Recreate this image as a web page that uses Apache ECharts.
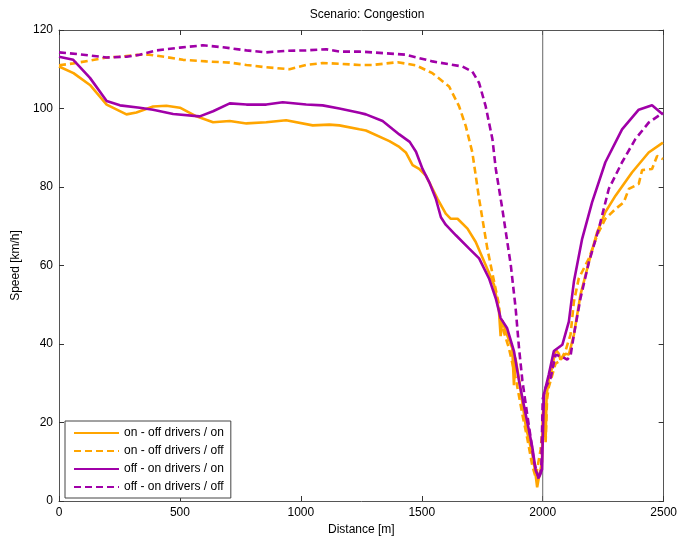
<!DOCTYPE html>
<html><head><meta charset="utf-8">
<script src="https://cdn.jsdelivr.net/npm/echarts@6/dist/echarts.min.js"></script>
<style>html,body{margin:0;padding:0;background:#fff}#c{width:680px;height:541px}</style>
</head><body><div id="c"></div>
<script>
const titleText = 'Scenario: Congestion';
const seriesNames = ['on - off drivers / on','on - off drivers / off','off - on drivers / on','off - on drivers / off'];
const xTicks = [0,500,1000,1500,2000,2500];
const yTicks = [0,20,40,60,80,100,120];
const markerX = 2000;

const onOnX = [0,60,128,197,279,320,389,444,500,568,637,706,775,857,939,1049,1118,1159,1242,1269,1366,1407,1434,1462,1489,1517,1565,1599,1620,1648,1689,1723,1764,1799,1819,1826,1833,1847,1874,1881,1887,1902,1930,1957,1970,1977,1984,1991,1997,2000,2007,2012,2016,2025,2039,2053,2067,2073,2094,2108,2129,2156,2191,2225,2259,2301,2369,2438,2497];
const onOnY = [110.7,109,106,101,98.5,99,100.5,100.7,100.2,98,96.5,96.8,96.2,96.5,97,95.7,95.9,95.7,94.7,94.4,91.7,90.2,88.8,85.6,84.6,82.9,77,73.2,71.9,71.9,69.4,66,60.1,55,48.5,42,46,43.2,39,29.5,36.5,31,19,12,7,3.5,6,8,10,22,25,15.5,27,31,34,38.6,37.5,36,37.5,37.3,42.4,52.5,60.9,68.5,73.6,77.8,83.7,88.8,91.3];

const onOffX = [0,60,128,197,250,334,372,444,513,609,706,775,857,953,1022,1090,1159,1242,1297,1400,1476,1544,1613,1654,1682,1709,1737,1771,1799,1819,1826,1833,1860,1888,1916,1936,1957,1971,1991,2005,2012,2018,2025,2053,2073,2094,2115,2129,2149,2191,2225,2259,2301,2335,2356,2397,2411,2452,2473,2497];
const onOffY = [111,111.5,112.2,113,113.2,113.7,113.7,113.1,112.4,112,111.7,111.1,110.5,110,111.1,111.6,111.4,111.1,111.1,111.8,111,109,105.6,100.6,95.5,88.8,77,64.3,55.9,50,45,44.3,39,31.4,22,16,9,6,13,22,15,26,29,35,35.8,38.2,42.4,50.8,56.7,61.8,67.7,71.9,74.4,76.1,79.5,80.8,84.3,84.6,87.9,87.1];

const offOnX = [0,59,128,197,252,334,389,472,582,637,706,775,857,925,1022,1090,1159,1242,1269,1338,1407,1450,1476,1503,1531,1558,1579,1599,1641,1696,1737,1778,1806,1826,1853,1881,1902,1930,1957,1971,1984,1997,2005,2025,2046,2081,2108,2129,2163,2204,2259,2328,2397,2452,2497];
const offOnY = [113.2,112.4,107.8,101.9,100.8,100.2,99.7,98.6,98,99.3,101.3,101,101,101.6,101,100.8,100,98.9,98.5,96.8,93.4,91.5,89,84.6,81.2,77,72.3,70.4,67.7,64.3,61.8,56.7,51.6,46.6,44,38.2,30.6,22,13.7,7.8,6,8,27.2,32.2,38.2,39.8,45.7,55.9,66.8,76.1,86.3,94.7,99.7,100.8,98.5];

const offOffX = [0,87,197,279,334,403,500,595,678,775,857,939,1022,1104,1159,1242,1297,1434,1544,1668,1709,1737,1764,1792,1806,1833,1868,1888,1902,1916,1936,1950,1964,1984,1994,2000,2012,2033,2053,2087,2101,2115,2129,2156,2191,2232,2273,2328,2383,2438,2497];
const offOffY = [114.3,113.8,113,113.2,113.7,114.8,115.5,116.1,115.6,114.8,114.3,114.7,114.8,115.1,114.5,114.5,114.3,113.7,112,110.7,109.4,106.5,100.6,92.2,84.6,74.4,60.1,49.1,39,30.6,22,16.2,10,5.5,8,26,28.9,31.4,37.3,36.5,36,37,42.4,51.6,60.9,69.4,79.5,86.3,92.2,96.4,98.9];

const ORANGE = '#ffa500', PURPLE = '#a000a8';
const FONT = 'Liberation Sans, Arial, sans-serif';
function pairs(xs, ys){ return xs.map((x,i)=>[x, ys[i]]); }
function mk(name, xs, ys, color, dashed){
  return {name, type:'line', xAxisIndex:0, yAxisIndex:0, data:pairs(xs,ys), symbol:'none', showSymbol:false,
    lineStyle:{color, width:2.6, type: dashed ? [7,4] : 'solid'}, itemStyle:{color}, animation:false};
}
const chart = echarts.init(document.getElementById('c'), null, {renderer:'canvas'});
const axisCommon = {min:0, axisLine:{show:true, onZero:false, lineStyle:{color:'#555', width:1}},
  axisTick:{show:true, inside:true, length:5, lineStyle:{color:'#333'}}, splitLine:{show:false}};
const plain = v => String(v);
chart.setOption({
  animation:false,
  title:{text:titleText, left:362, top:4, textAlign:'center', textStyle:{fontFamily:FONT, fontSize:12, fontWeight:'normal', color:'#000'}},
  grid:{left:59, right:15, top:30, bottom:37},
  legend:{data:seriesNames, orient:'vertical', left:65, top:421, itemWidth:45, itemHeight:12, itemGap:6,
    padding:[6,7,5,8], backgroundColor:'#fff', borderColor:'#444', borderWidth:1, borderRadius:0,
    itemStyle:{opacity:0, borderWidth:0},
    textStyle:{fontFamily:FONT, fontSize:12, color:'#000'}, selectedMode:false},
  xAxis:[
    Object.assign({}, axisCommon, {type:'value', max:2500, interval:500, position:'bottom',
      name:'Distance [m]', nameLocation:'middle', nameGap:23, nameTextStyle:{fontFamily:FONT, fontSize:12, color:'#000'},
      axisLabel:{fontFamily:FONT, fontSize:12, color:'#000', margin:6, formatter:plain}}),
    Object.assign({}, axisCommon, {type:'value', max:2500, interval:500, position:'top', axisLabel:{show:false}})
  ],
  yAxis:[
    Object.assign({}, axisCommon, {type:'value', max:120, interval:20, position:'left',
      name:'Speed [km/h]', nameLocation:'middle', nameGap:31, nameTextStyle:{fontFamily:FONT, fontSize:12, color:'#000'},
      axisLabel:{fontFamily:FONT, fontSize:12, color:'#000', margin:6, formatter:plain}}),
    Object.assign({}, axisCommon, {type:'value', max:120, interval:20, position:'right', axisLabel:{show:false}})
  ],
  series:[
    {name:'marker', type:'line', data:[[markerX,0],[markerX,120]], symbol:'none', silent:true,
      lineStyle:{color:'#666', width:1}, animation:false, z:1},
    mk(seriesNames[0], onOnX, onOnY, ORANGE, false),
    mk(seriesNames[1], onOffX, onOffY, ORANGE, true),
    mk(seriesNames[2], offOnX, offOnY, PURPLE, false),
    mk(seriesNames[3], offOffX, offOffY, PURPLE, true)
  ]
});
</script></body></html>
